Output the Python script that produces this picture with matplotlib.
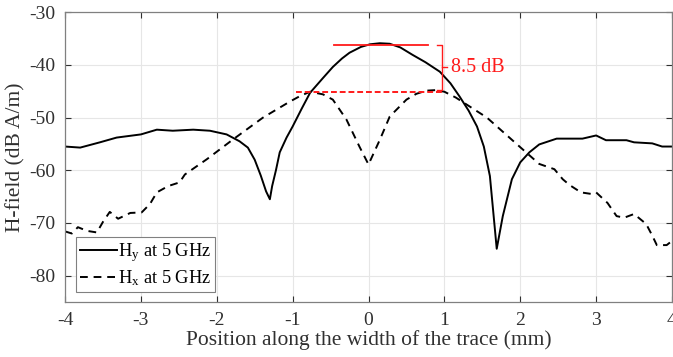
import numpy as np
import matplotlib.pyplot as plt

plt.rcParams['font.family'] = ['Liberation Serif', 'DejaVu Serif']
plt.rcParams['mathtext.fontset'] = 'custom'
plt.rcParams['mathtext.rm'] = 'Liberation Serif'
plt.rcParams['mathtext.it'] = 'Liberation Serif'
plt.rcParams['axes.unicode_minus'] = False

# Hy at 5 GHz (solid)
hy_x = [-4.0, -3.8, -3.54, -3.32, -3.0, -2.79, -2.58, -2.31, -2.09, -1.87, -1.7, -1.59,
        -1.5, -1.42, -1.35, -1.3, -1.27, -1.22, -1.17, -1.08, -1.0, -0.88, -0.77, -0.6,
        -0.47, -0.35, -0.25, -0.1, 0.02, 0.15, 0.28, 0.42, 0.58, 0.75, 0.94, 1.08, 1.2,
        1.32, 1.43, 1.52, 1.6, 1.69, 1.77, 1.89, 2.0, 2.12, 2.25, 2.48, 2.82, 3.0, 3.13,
        3.4, 3.5, 3.74, 3.87, 4.0]
hy_y = [-55.5, -55.7, -54.7, -53.8, -53.2, -52.3, -52.5, -52.3, -52.5, -53.2, -54.5, -55.7,
        -58.0, -61.0, -64.0, -65.5, -63.0, -60.0, -56.6, -53.8, -51.7, -48.3, -45.3, -42.5,
        -40.4, -38.8, -37.7, -36.6, -36.1, -35.9, -36.0, -36.7, -38.1, -39.5, -41.3, -43.5,
        -46.0, -48.7, -51.7, -55.5, -61.1, -74.9, -68.7, -61.7, -58.5, -56.6, -55.1, -54.0,
        -54.0, -53.4, -54.3, -54.3, -54.7, -54.9, -55.5, -55.5]

# Hx at 5 GHz (dashed)
hx_x = [-4.0, -3.91, -3.83, -3.71, -3.58, -3.5, -3.41, -3.3, -3.14, -2.99, -2.88, -2.79,
        -2.64, -2.49, -2.42, -2.13, -1.79, -1.39, -1.04, -0.9, -0.77, -0.6, -0.47, -0.29,
        -0.12, 0.0, 0.15, 0.28, 0.5, 0.63, 0.76, 0.88, 1.0, 1.15, 1.29, 1.56, 1.99, 2.25,
        2.45, 2.56, 2.65, 2.8, 2.94, 3.0, 3.15, 3.27, 3.37, 3.5, 3.66, 3.74, 3.8, 3.93, 4.0]
hx_y = [-71.6, -72.0, -70.8, -71.5, -71.8, -69.8, -67.9, -69.2, -68.1, -68.0, -66.4, -64.2,
        -63.0, -62.3, -60.8, -57.9, -54.2, -50.0, -47.0, -45.9, -45.1, -45.6, -46.6, -50.4,
        -55.5, -58.9, -54.2, -49.8, -46.6, -45.5, -44.9, -44.8, -45.1, -46.2, -47.5, -50.0,
        -55.5, -58.8, -59.8, -61.7, -62.8, -64.2, -64.5, -64.2, -66.2, -68.7, -69.0, -68.3,
        -70.2, -72.4, -74.2, -74.2, -73.4]

xticks = [-4, -3, -2, -1, 0, 1, 2, 3, 4]
yticks = [-80, -70, -60, -50, -40, -30]

# annotation levels
peak_hy = -36.2
peak_hx = -45.1
delta_label = '8.5 dB'

fig = plt.figure(figsize=(6.73, 3.57), dpi=100)
ax = fig.add_axes([0.0966, 0.154, 0.9019, 0.812])

ax.plot(hy_x, hy_y, color='black', lw=1.4, label='H$_y$ at 5 GHz')
ax.plot(hx_x, hx_y, color='black', lw=1.4, ls=(0, (4, 3)), label='H$_x$ at 5 GHz')

red = '#ff1a1a'
ax.plot([-0.45, 0.78], [peak_hy, peak_hy], color=red, lw=1.3)
ax.plot([-0.95, 1.0], [peak_hx, peak_hx], color=red, lw=1.4, ls=(0, (3, 1.5)))
bx = 0.97
ax.plot([bx - 0.07, bx, bx, bx - 0.07], [peak_hy, peak_hy, peak_hx + 0.3, peak_hx + 0.3],
        color=red, lw=1.0)
mid = (peak_hy + peak_hx + 0.3) / 2
ax.plot([bx, bx + 0.06], [mid, mid], color=red, lw=1.0)
ax.text(bx + 0.12, mid, delta_label, color=red, fontsize=14.5, va='center', ha='left')

ax.set_xlim(-4, 4)
ax.set_ylim(-85, -30)
ax.set_xticks(xticks)
ax.set_yticks(yticks)
ax.tick_params(direction='in', top=True, right=True, labelsize=14, colors='#303030',
               length=4, width=0.8, pad=7)
ax.grid(True, color='#e6e6e6', lw=0.8)
ax.set_axisbelow(True)
for s in ax.spines.values():
    s.set_color('#808080')
    s.set_linewidth(0.9)

ax.set_xlabel('Position along the width of the trace (mm)', fontsize=15.5, color='#303030', labelpad=1)
ax.set_ylabel('H-field (dB A/m)', fontsize=15.5, color='#303030', labelpad=3)

leg = ax.legend(loc='lower left', bbox_to_anchor=(0.018, 0.035), fontsize=13.3,
                handlelength=2.0, handletextpad=0.1, borderpad=0.2, labelspacing=0.25,
                fancybox=False, framealpha=1, edgecolor='#808080', borderaxespad=0)
leg.get_frame().set_linewidth(0.8)

plt.savefig('out.png', dpi=100)
